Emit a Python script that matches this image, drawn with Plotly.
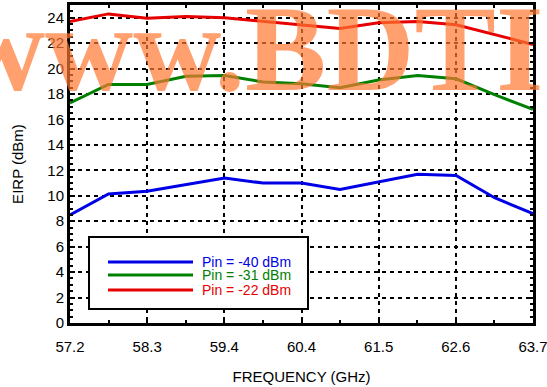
import plotly.graph_objects as go

# ---- data ----
freq_ghz = [57.20, 57.74, 58.28, 58.83, 59.37, 59.91, 60.45, 60.99, 61.53, 62.08, 62.62, 63.16, 63.70]
eirp_m40 = [8.5, 10.15, 10.35, 10.9, 11.4, 11.0, 11.0, 10.5, 11.1, 11.7, 11.6, 9.85, 8.6]
eirp_m31 = [17.3, 18.75, 18.75, 19.4, 19.45, 18.95, 18.8, 18.5, 19.1, 19.45, 19.2, 17.95, 16.8]
eirp_m22 = [23.7, 24.3, 23.95, 24.1, 24.0, 23.7, 23.4, 23.15, 23.6, 23.7, 23.45, 22.7, 21.9]
series_names = ["Pin = -40 dBm", "Pin = -31 dBm", "Pin = -22 dBm"]
series_colors = ["#0000e6", "#008000", "#e60000"]
x_tick_labels = ["57.2", "58.3", "59.4", "60.4", "61.5", "62.6", "63.7"]
x_tick_pos = [57.2, 58.2833, 59.3667, 60.45, 61.5333, 62.6167, 63.7]

FONT = "Liberation Sans, Arial, sans-serif"

fig = go.Figure()
for name, ys, col in zip(series_names, [eirp_m40, eirp_m31, eirp_m22], series_colors):
    fig.add_trace(go.Scatter(x=freq_ghz, y=ys, mode="lines", name=name,
                             line=dict(color=col, width=3), showlegend=False))

axis_common = dict(
    showline=True, linecolor="black", linewidth=3, mirror="ticks",
    ticks="inside", ticklen=5, tickwidth=2, tickcolor="black",
    showgrid=True, gridcolor="black", gridwidth=2, griddash="4px,4px",
    zeroline=False, tickfont=dict(family=FONT, size=15, color="black"),
    automargin=False, ticklabeloverflow="allow",
)

fig.update_xaxes(range=[57.2, 63.7], tickmode="array", tickvals=x_tick_pos,
                 ticktext=x_tick_labels, ticklabelstandoff=8,
                 minor=dict(tick0=57.2, dtick=6.5/12, ticks="inside", ticklen=3,
                            tickwidth=1.5, tickcolor="black", showgrid=False),
                 title=dict(text="FREQUENCY (GHz)", font=dict(family=FONT, size=15, color="black"),
                            standoff=18),
                 **axis_common)
fig.update_yaxes(range=[0, 25], tickmode="linear", tick0=0, dtick=2,
                 minor=dict(dtick=0.5, ticks="inside", ticklen=3, tickwidth=1.5,
                            tickcolor="black", showgrid=False),
                 title=dict(text="EIRP (dBm)", font=dict(family=FONT, size=15, color="black"),
                            standoff=21),
                 **axis_common)

# manual legend (paper coordinates)
shapes = [dict(type="rect", xref="paper", yref="paper", x0=(89-70)/463, x1=(308-70)/463,
               y0=(323-309)/318, y1=(323-237)/318, line=dict(color="black", width=2),
               fillcolor="white", layer="above")]
legend_ys = [262, 275, 290]
annotations = []
for name, col, ly in zip(series_names, series_colors, legend_ys):
    yp = (323 - ly) / 318
    shapes.append(dict(type="line", xref="paper", yref="paper", x0=(108-70)/463, x1=(193-70)/463,
                       y0=yp, y1=yp, line=dict(color=col, width=3), layer="above"))
    annotations.append(dict(xref="paper", yref="paper", x=(200-70)/463, y=yp, text=name,
                            showarrow=False, xanchor="left", yanchor="middle",
                            font=dict(family=FONT, size=14, color=col)))

# watermark
annotations.append(dict(xref="paper", yref="paper", x=(-45-70)/463, y=(323-118)/318,
                        text="<b>www.BDTI</b>", showarrow=False, xanchor="left", yanchor="bottom",
                        font=dict(family="Liberation Serif, serif", size=122, color="rgb(255,120,50)"),
                        opacity=0.7))

fig.update_layout(
    width=547, height=387, margin=dict(l=70, r=14, t=5, b=64),
    paper_bgcolor="white", plot_bgcolor="white",
    shapes=shapes, annotations=annotations,
    font=dict(family=FONT, color="black"),
)

fig.write_html("out.html")
